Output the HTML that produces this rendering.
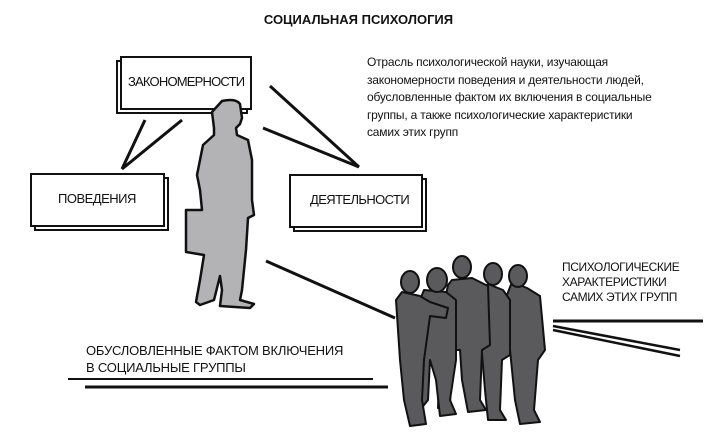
<!DOCTYPE html>
<html><head><meta charset="utf-8"><style>
html,body{margin:0;padding:0;background:#fff}
body{width:717px;height:432px;position:relative;overflow:hidden;font-family:"Liberation Sans",sans-serif;color:#111}
.t{position:absolute;white-space:nowrap;font-size:12px;}
.b{position:absolute;border:2px solid #111;background:#fff;box-sizing:border-box}
.s{position:absolute;border:2px solid #111;background:#fff;box-sizing:border-box}
</style></head><body>
<svg width="717" height="432" style="position:absolute;left:0;top:0">
<g stroke="#111" stroke-width="3" fill="none">
<line x1="145" y1="120" x2="122" y2="169"/>
<line x1="182" y1="120" x2="122" y2="169"/>
<line x1="270" y1="86" x2="359" y2="167"/>
<line x1="263" y1="128" x2="359" y2="167"/>
<line x1="266" y1="261" x2="395" y2="318"/>
</g>
<g stroke="#111" fill="none">
<line x1="68" y1="379" x2="373" y2="379" stroke-width="2"/>
<line x1="85" y1="387" x2="388" y2="387" stroke-width="3"/>
<line x1="553" y1="321" x2="703" y2="321" stroke-width="3"/>
<line x1="553" y1="326" x2="680" y2="350" stroke-width="2.5"/>
<line x1="553" y1="330" x2="680" y2="356" stroke-width="2.5"/>
</g>
</svg>
<div class="s" style="left:116px;top:60px;width:132px;height:54px"></div>
<div class="b" style="left:120px;top:56px;width:132px;height:54px"></div>
<div class="t" style="left:128px;top:74px;font-size:13px;letter-spacing:-0.8px">ЗАКОНОМЕРНОСТИ</div>
<div class="s" style="left:34px;top:177px;width:135px;height:54px"></div>
<div class="b" style="left:30px;top:173px;width:135px;height:54px"></div>
<div class="t" style="left:58px;top:191px;font-size:13px;letter-spacing:-0.5px">ПОВЕДЕНИЯ</div>
<div class="s" style="left:293px;top:178px;width:134px;height:54px"></div>
<div class="b" style="left:289px;top:174px;width:134px;height:54px"></div>
<div class="t" style="left:310px;top:192px;font-size:13px;letter-spacing:-0.6px">ДЕЯТЕЛЬНОСТИ</div>
<svg width="717" height="432" style="position:absolute;left:0;top:0">
<path d="M222,101 Q236,98 240,104 L242,118 L240,124 L236,128 L237,135 L248,140 L252,160 L252,200 L254,215 L248,218 L246,250 L242,290 L240,300 L254,304 L250,308 L220,306 L222,290 L220,276 L214,300 L200,305 L196,302 L200,280 L204,255 L186,252 L186,210 L202,210 L200,190 L197,175 L203,145 L214,135 L214,128 L212,112 Z" fill="#b3b3b5" stroke="#111" stroke-width="2.5" stroke-linejoin="round"/>
<g fill="#5a5a5c" stroke="#111" stroke-width="2" stroke-linejoin="round">
<path d="M512,282 L527,288 L540,296 L545,350 L538,360 L534,410 L540,422 L520,424 L515,400 L512,370 L505,300 Z"/>
<ellipse cx="518" cy="276" rx="9" ry="11"/>
<path d="M488,284 L503,290 L510,300 L510,355 L502,360 L500,410 L506,420 L488,420 L485,390 L480,330 L478,295 Z"/>
<ellipse cx="493" cy="274" rx="9" ry="11"/>
<path d="M452,280 L472,278 L488,286 L490,345 L482,350 L480,400 L486,410 L468,412 L462,380 L460,350 L452,350 L450,405 L438,408 L440,350 L445,300 L448,285 Z"/>
<ellipse cx="462" cy="267" rx="9" ry="11"/>
<path d="M424,290 L446,292 L456,300 L456,360 L450,400 L456,414 L440,416 L436,380 L430,360 L428,400 L420,410 L416,350 L420,300 Z"/>
<ellipse cx="437" cy="280" rx="10" ry="12"/>
<path d="M402,292 L420,296 L430,302 L448,308 L446,318 L430,316 L424,360 L422,400 L426,424 L410,426 L404,400 L400,360 L396,300 Z"/>
<ellipse cx="410" cy="282" rx="9" ry="11"/>
</g>
</svg>
<div class="t" style="left:0;width:717px;text-align:center;top:12px;font-weight:bold;font-size:13px">СОЦИАЛЬНАЯ ПСИХОЛОГИЯ</div>
<div class="t" style="left:367px;top:54px;font-size:12px;line-height:17.5px;letter-spacing:-0.2px">Отрасль психологической науки, изучающая<br>закономерности поведения и деятельности людей,<br>обусловленные фактом их включения в социальные<br>группы, а также психологические характеристики<br>самих этих групп</div>
<div class="t" style="left:562px;top:260px;font-size:12px;line-height:15px;letter-spacing:-0.4px">ПСИХОЛОГИЧЕСКИЕ<br>ХАРАКТЕРИСТИКИ<br>САМИХ ЭТИХ ГРУПП</div>
<div class="t" style="left:86px;top:342px;font-size:13px;line-height:17px;letter-spacing:-0.2px">ОБУСЛОВЛЕННЫЕ ФАКТОМ ВКЛЮЧЕНИЯ<br>В СОЦИАЛЬНЫЕ ГРУППЫ</div>
</body></html>
